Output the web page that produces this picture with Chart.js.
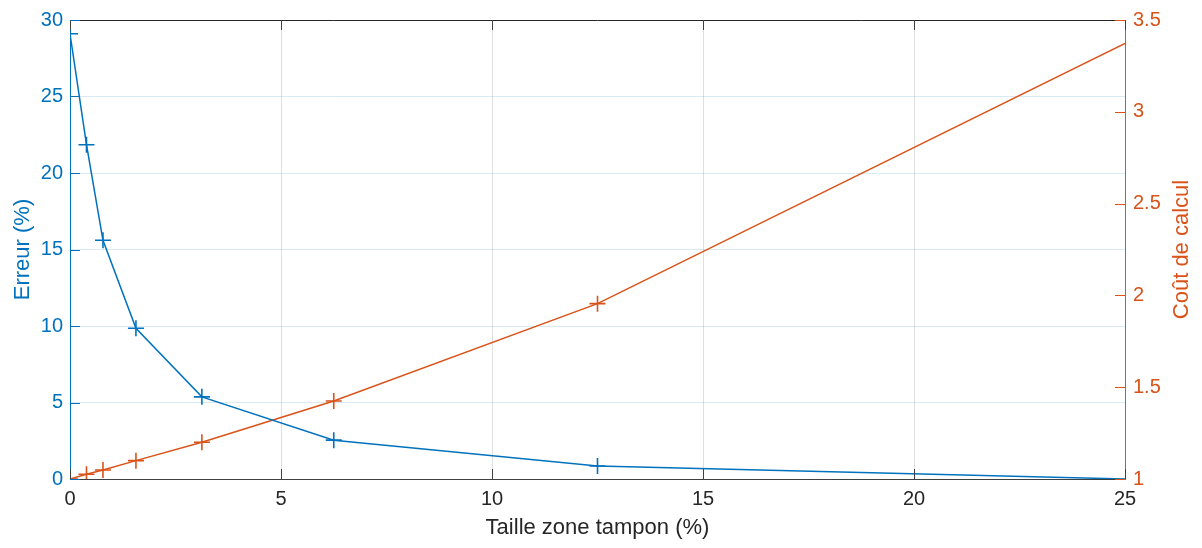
<!DOCTYPE html>
<html>
<head>
<meta charset="utf-8">
<script src="https://cdn.jsdelivr.net/npm/chart.js@4/dist/chart.umd.min.js"></script>
<style>
  html, body { margin: 0; padding: 0; background: #ffffff; }
  #wrap { width: 1202px; height: 548px; position: relative; }
</style>
</head>
<body>
<div id="wrap"><canvas id="c" width="1202" height="548"></canvas></div>
<script>
// ---- data ----
const bufferSize = [0, 0.390625, 0.78125, 1.5625, 3.125, 6.25, 12.5, 25];   // Taille zone tampon (%)
const errorPct   = [29.1, 21.85, 15.6, 9.85, 5.37, 2.54, 0.85, 0];        // Erreur (%)
const costCalc   = [1.0, 1.026, 1.049, 1.10, 1.20, 1.425, 1.955, 3.373]; // Coût de calcul
const xTicks     = [0, 5, 10, 15, 20, 25];
const yLeftTicks = [0, 5, 10, 15, 20, 25, 30];
const yRightTicks = [1, 1.5, 2, 2.5, 3, 3.5];
const markerShown = [1, 1, 1, 1, 1, 1, 1, 0];
const rightTitle = 'Coût de calcul';

const BLUE = '#0072BD';
const ORANGE = '#D95319';
const DARK = '#262626';
const FONT = '"Liberation Sans", Arial, Helvetica, sans-serif';

const toPts = (xs, ys) => xs.map((x, i) => ({ x: x, y: ys[i] }));

// inward tick marks + top box line + right axis title (MATLAB orientation)
const inwardTicks = {
  id: 'inwardTicks',
  afterDraw(chart) {
    const ctx = chart.ctx;
    const a = chart.chartArea;
    const L = 10;
    ctx.save();
    ctx.lineWidth = 1;
    // top border
    ctx.strokeStyle = DARK;
    ctx.beginPath();
    ctx.moveTo(a.left, a.top + 0.5);
    ctx.lineTo(a.right, a.top + 0.5);
    ctx.stroke();
    // x ticks bottom & top
    const xs = chart.scales.x;
    ctx.strokeStyle = '#404040';
    xTicks.forEach(v => {
      const px = Math.round(xs.getPixelForValue(v)) + 0.5;
      ctx.beginPath();
      ctx.moveTo(px, a.bottom); ctx.lineTo(px, a.bottom - L);
      ctx.moveTo(px, a.top); ctx.lineTo(px, a.top + L);
      ctx.stroke();
    });
    // left ticks
    const yl = chart.scales.y;
    ctx.strokeStyle = BLUE;
    yLeftTicks.forEach(v => {
      const py = Math.round(yl.getPixelForValue(v)) + 0.5;
      ctx.beginPath();
      ctx.moveTo(a.left, py); ctx.lineTo(a.left + L, py);
      ctx.stroke();
    });
    // right ticks
    const yr = chart.scales.y1;
    ctx.strokeStyle = ORANGE;
    yRightTicks.forEach(v => {
      const py = Math.round(yr.getPixelForValue(v)) + 0.5;
      ctx.beginPath();
      ctx.moveTo(a.right, py); ctx.lineTo(a.right - L, py);
      ctx.stroke();
    });
    // right axis title, reading bottom-to-top
    ctx.fillStyle = ORANGE;
    ctx.font = '22px ' + FONT;
    ctx.textAlign = 'center';
    ctx.textBaseline = 'middle';
    ctx.translate(yr.right - 20, (a.top + a.bottom) / 2);
    ctx.rotate(-Math.PI / 2);
    ctx.fillText(rightTitle, 0, 0);
    ctx.restore();
  }
};

new Chart(document.getElementById('c'), {
  type: 'line',
  data: {
    datasets: [
      {
        label: 'Erreur (%)',
        data: toPts(bufferSize, errorPct),
        yAxisID: 'y',
        borderColor: BLUE,
        backgroundColor: BLUE,
        borderWidth: 1.5,
        pointStyle: 'cross',
        pointRadius: markerShown.map(m => m * 8),
        pointBorderWidth: 1.6,
        pointBorderColor: BLUE,
        tension: 0,
        fill: false,
        clip: 0
      },
      {
        label: rightTitle,
        data: toPts(bufferSize, costCalc),
        yAxisID: 'y1',
        borderColor: ORANGE,
        backgroundColor: ORANGE,
        borderWidth: 1.5,
        pointStyle: 'cross',
        pointRadius: markerShown.map(m => m * 8),
        pointBorderWidth: 1.6,
        pointBorderColor: ORANGE,
        tension: 0,
        fill: false,
        clip: 0
      }
    ]
  },
  options: {
    responsive: false,
    animation: false,
    devicePixelRatio: 1,
    layout: { padding: { top: 19, left: 0, right: 0, bottom: 0 } },
    plugins: {
      legend: { display: false },
      tooltip: { enabled: false }
    },
    elements: { point: { hoverRadius: 8 } },
    scales: {
      x: {
        type: 'linear',
        position: 'bottom',
        min: 0, max: 25,
        afterBuildTicks: s => { s.ticks = xTicks.map(v => ({ value: v })); },
        afterFit: s => { s.height = 69; },
        ticks: {
          color: DARK,
          font: { family: FONT, size: 20 },
          padding: 8,
          maxRotation: 0,
          callback: v => String(v)
        },
        grid: { color: 'rgba(38,38,38,0.15)', drawTicks: false, lineWidth: 1 },
        border: { display: true, color: '#404040', width: 1 },
        title: {
          display: true,
          text: 'Taille zone tampon (%)',
          color: DARK,
          font: { family: FONT, size: 22 },
          padding: { top: 0, bottom: 7 }
        }
      },
      y: {
        type: 'linear',
        position: 'left',
        min: 0, max: 30,
        afterBuildTicks: s => { s.ticks = yLeftTicks.map(v => ({ value: v })); },
        afterFit: s => { s.width = 70; },
        ticks: {
          color: BLUE,
          font: { family: FONT, size: 20 },
          padding: 7,
          callback: v => String(v)
        },
        grid: { color: 'rgba(0,114,189,0.15)', drawTicks: false, lineWidth: 1 },
        border: { display: true, color: BLUE, width: 1 },
        title: {
          display: true,
          text: 'Erreur (%)',
          color: BLUE,
          font: { family: FONT, size: 22 },
          padding: { top: 10, bottom: 0 }
        }
      },
      y1: {
        type: 'linear',
        position: 'right',
        min: 1, max: 3.5,
        afterBuildTicks: s => { s.ticks = yRightTicks.map(v => ({ value: v })); },
        afterFit: s => { s.width = 77; },
        ticks: {
          color: ORANGE,
          font: { family: FONT, size: 20 },
          padding: 8,
          callback: v => String(v)
        },
        grid: { display: false, drawTicks: false },
        border: { display: true, color: ORANGE, width: 1 },
        title: { display: false }
      }
    }
  },
  plugins: [inwardTicks]
});
</script>
</body>
</html>
